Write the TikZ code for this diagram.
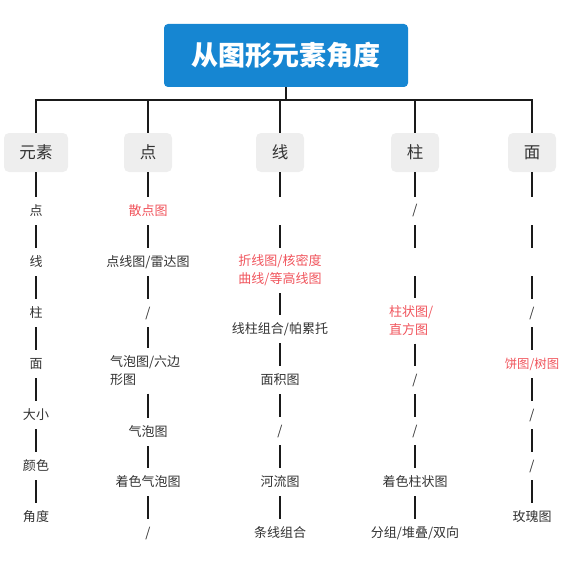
\documentclass[tikz,border=0pt]{standalone}
\usepackage{fontspec}
\setmainfont{Noto Sans CJK SC}
\usetikzlibrary{calc}
\definecolor{titleblue}{RGB}{22,134,210}
\definecolor{hdrgray}{RGB}{238,238,238}
\definecolor{txtdark}{RGB}{51,51,51}
\definecolor{txtred}{RGB}{240,84,92}
\definecolor{linedark}{RGB}{26,26,26}
\tikzset{
  titlebox/.style={fill=titleblue, rounded corners=4pt, minimum width=244pt, minimum height=63pt,
    text=white, font=\fontsize{27}{30}\selectfont\bfseries, inner sep=0pt},
  hdrbox/.style={fill=hdrgray, rounded corners=5pt, minimum width=48pt, minimum height=39pt,
    inner xsep=15.5pt, inner ysep=0pt, text=txtdark, font=\fontsize{16.5}{20}\selectfont},
  item/.style={minimum height=28pt, minimum width=2pt, inner sep=0pt, text=txtdark,
    font=\fontsize{13}{18}\selectfont},
  reditem/.style={item, text=txtred},
  twoline/.style={minimum height=45pt, align=left, text width=#1},
  busline/.style={draw=linedark, line width=2.8pt},
  conn/.style={draw=linedark, line width=2.4pt}
}
\begin{document}
\begin{tikzpicture}[x=1pt, y=-1pt]
\useasboundingbox (0,0) rectangle (560,567);
\node[titlebox] (title) at (286,55.5) {从图形元素角度};
\coordinate (bus) at (286,100);
\node[hdrbox] (h1) at (36,152.5) {元素};
\node[hdrbox] (h2) at (148,152.5) {点};
\node[hdrbox] (h3) at (280,152.5) {线};
\node[hdrbox] (h4) at (415,152.5) {柱};
\node[hdrbox] (h5) at (532,152.5) {面};
\draw[busline] (title.south) -- (bus);
\foreach \h in {h1,h2,h3,h4,h5} \draw[busline] (bus) -| (\h.north);
% column 1
\node[item] (a1) at (36,211) {点};
\node[item] (a2) at (36,262) {线};
\node[item] (a3) at (36,313) {柱};
\node[item] (a4) at (36,364) {面};
\node[item] (a5) at (36,415) {大小};
\node[item] (a6) at (36,466) {颜色};
\node[item] (a7) at (36,517) {角度};
% column 2
\node[reditem] (b1) at (148,211) {散点图};
\node[item] (b2) at (148,262) {点线图/雷达图};
\node[item] (b3) at (148,313) {/};
\node[item, twoline=76pt] (b4) at (148,371) {气泡图/六边\\形图};
\node[item] (b5) at (148,432) {气泡图};
\node[item] (b6) at (148,482) {着色气泡图};
\node[item] (b7) at (148,533) {/};
% column 3
\node[item] (c1) at (280,211) {};
\node[reditem, twoline=92pt, align=center] (c2) at (280,270.5) {折线图/核密度\\曲线/等高线图};
\node[item] (c3) at (280,329) {线柱组合/帕累托};
\node[item] (c4) at (280,380) {面积图};
\node[item] (c5) at (280,431) {/};
\node[item] (c6) at (280,482) {河流图};
\node[item] (c7) at (280,533) {条线组合};
% column 4
\node[item] (d1) at (415,211) {/};
\node[item] (d2) at (415,262) {};
\node[reditem, twoline=52pt] (d3) at (415,321) {柱状图/\\直方图};
\node[item] (d4) at (415,380) {/};
\node[item] (d5) at (415,431) {/};
\node[item] (d6) at (415,482) {着色柱状图};
\node[item] (d7) at (415,533) {分组/堆叠/双向};
% column 5
\node[item] (e1) at (532,211) {};
\node[item] (e2) at (532,262) {};
\node[item] (e3) at (532,313) {/};
\node[reditem, font=\fontsize{12.4}{18}\selectfont] (e4) at (532,364) {饼图/树图};
\node[item] (e5) at (532,415) {/};
\node[item] (e6) at (532,466) {/};
\node[item] (e7) at (532,517) {玫瑰图};
% connectors
\draw[conn] (h1) -- (a1);
\draw[conn] (a1) -- (a2); \draw[conn] (a2) -- (a3); \draw[conn] (a3) -- (a4);
\draw[conn] (a4) -- (a5); \draw[conn] (a5) -- (a6); \draw[conn] (a6) -- (a7);
\draw[conn] (h2) -- (b1);
\draw[conn] (b1) -- (b2); \draw[conn] (b2) -- (b3); \draw[conn] (b3) -- (b4);
\draw[conn] (b4) -- (b5); \draw[conn] (b5) -- (b6); \draw[conn] (b6) -- (b7);
\draw[conn] (h3) -- (c1);
\draw[conn] (c1) -- (c2); \draw[conn] (c2) -- (c3); \draw[conn] (c3) -- (c4);
\draw[conn] (c4) -- (c5); \draw[conn] (c5) -- (c6); \draw[conn] (c6) -- (c7);
\draw[conn] (h4) -- (d1);
\draw[conn] (d1) -- (d2); \draw[conn] (d2) -- (d3); \draw[conn] (d3) -- (d4);
\draw[conn] (d4) -- (d5); \draw[conn] (d5) -- (d6); \draw[conn] (d6) -- (d7);
\draw[conn] (h5) -- (e1);
\draw[conn] (e1) -- (e2); \draw[conn] (e2) -- (e3); \draw[conn] (e3) -- (e4);
\draw[conn] (e4) -- (e5); \draw[conn] (e5) -- (e6); \draw[conn] (e6) -- (e7);
\end{tikzpicture}
\end{document}
